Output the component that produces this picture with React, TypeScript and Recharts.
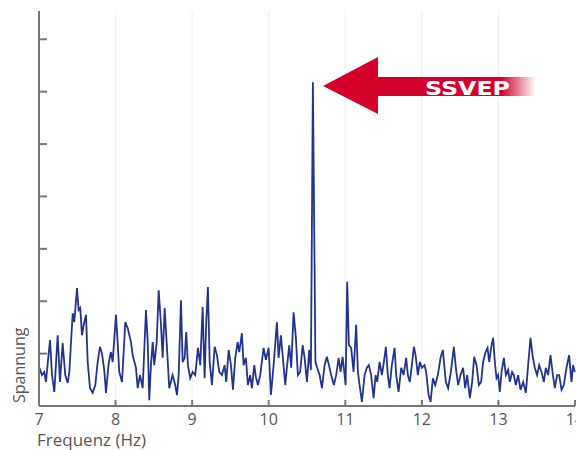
import { LineChart, Line, XAxis, YAxis, CartesianGrid, Customized } from 'recharts';

// Frequenzachse (Hz) und Amplitude (willkürliche Einheiten) des Spektrums
const freq = [
  7.004, 7.039, 7.069, 7.091, 7.114, 7.144, 7.170, 7.200, 7.244, 7.274,
  7.309, 7.343, 7.375, 7.396, 7.440, 7.461, 7.496, 7.518, 7.539, 7.561,
  7.584, 7.614, 7.636, 7.666, 7.701, 7.735, 7.766, 7.796, 7.822, 7.852,
  7.875, 7.910, 7.940, 7.962, 8.005, 8.027, 8.048, 8.084, 8.127, 8.158,
  8.201, 8.223, 8.266, 8.289, 8.319, 8.354, 8.397, 8.420, 8.440, 8.462,
  8.485, 8.505, 8.537, 8.563, 8.593, 8.615, 8.641, 8.667, 8.701, 8.745,
  8.779, 8.802, 8.824, 8.854, 8.876, 8.902, 8.923, 8.945, 8.975, 9.007,
  9.041, 9.076, 9.106, 9.137, 9.163, 9.184, 9.206, 9.229, 9.259, 9.294,
  9.324, 9.354, 9.389, 9.424, 9.445, 9.477, 9.507, 9.533, 9.563, 9.594,
  9.615, 9.650, 9.672, 9.702, 9.728, 9.758, 9.781, 9.811, 9.833, 9.859,
  9.889, 9.933, 9.963, 9.999, 10.029, 10.064, 10.107, 10.129, 10.159, 10.185,
  10.216, 10.238, 10.268, 10.294, 10.325, 10.355, 10.381, 10.411, 10.443, 10.469,
  10.499, 10.529, 10.551, 10.577, 10.610, 10.633, 10.665, 10.695, 10.730, 10.760,
  10.786, 10.816, 10.851, 10.881, 10.913, 10.939, 10.965, 10.991, 11.004, 11.025,
  11.047, 11.077, 11.108, 11.142, 11.165, 11.187, 11.217, 11.252, 11.282, 11.308,
  11.338, 11.370, 11.396, 11.417, 11.448, 11.478, 11.504, 11.530, 11.556, 11.578,
  11.608, 11.644, 11.665, 11.696, 11.730, 11.761, 11.795, 11.817, 11.843, 11.870,
  11.896, 11.918, 11.948, 11.974, 12.000, 12.035, 12.056, 12.088, 12.114, 12.144,
  12.174, 12.209, 12.244, 12.274, 12.313, 12.343, 12.379, 12.418, 12.444, 12.474,
  12.505, 12.539, 12.565, 12.592, 12.627, 12.657, 12.683, 12.714, 12.744, 12.774,
  12.800, 12.832, 12.858, 12.879, 12.910, 12.931, 12.953, 12.975, 12.996, 13.018,
  13.041, 13.071, 13.097, 13.127, 13.149, 13.179, 13.201, 13.227, 13.257, 13.289,
  13.323, 13.358, 13.388, 13.419, 13.445, 13.475, 13.505, 13.532, 13.563, 13.593,
  13.619, 13.649, 13.680, 13.706, 13.736, 13.767, 13.793, 13.824, 13.854, 13.889,
  13.923, 13.954, 13.975, 13.997,
];

const amp = [
  0.73, 0.59, 0.65, 0.46, 0.82, 1.26, 0.59, 0.27, 1.35, 0.46,
  1.20, 0.59, 0.44, 0.65, 1.77, 1.60, 2.25, 1.83, 1.87, 1.35,
  1.55, 1.74, 0.84, 0.34, 0.25, 0.40, 0.84, 1.13, 1.01, 0.69,
  0.25, 0.82, 1.03, 0.84, 1.74, 1.22, 0.65, 0.46, 1.60, 1.49,
  1.22, 0.97, 0.73, 0.34, 0.59, 0.34, 1.83, 1.22, 0.11, 0.78,
  1.22, 0.78, 1.22, 2.21, 1.55, 0.92, 1.87, 1.22, 0.34, 0.59,
  0.40, 0.21, 0.59, 2.02, 0.84, 0.92, 1.41, 0.78, 0.53, 0.65,
  0.59, 1.11, 0.78, 1.89, 0.53, 1.60, 2.27, 0.84, 0.40, 1.13,
  0.97, 0.65, 0.59, 0.78, 0.46, 1.07, 0.78, 0.31, 0.92, 1.22,
  1.03, 1.39, 0.78, 0.92, 0.40, 0.59, 0.34, 0.78, 0.55, 0.40,
  0.59, 1.11, 0.88, 1.11, 0.21, 0.78, 1.60, 0.92, 1.35, 0.92,
  0.40, 0.74, 1.16, 0.73, 1.79, 1.30, 0.59, 0.65, 1.16, 0.92,
  0.46, 1.07, 0.69, 6.18, 0.84, 0.73, 0.59, 0.34, 0.78, 0.94,
  0.78, 0.59, 0.40, 0.59, 0.92, 0.65, 0.94, 0.59, 0.40, 2.37,
  1.16, 1.11, 0.65, 1.55, 0.65, 0.40, 0.08, 0.59, 0.73, 0.78,
  0.59, 0.15, 0.59, 0.46, 0.84, 0.59, 0.84, 1.13, 0.59, 0.34,
  0.78, 1.11, 0.59, 0.27, 0.73, 0.59, 0.92, 0.59, 0.46, 0.78,
  1.13, 0.97, 0.59, 0.84, 0.73, 0.78, 0.65, 0.21, 0.08, 0.53,
  0.40, 0.59, 0.92, 1.07, 0.46, 0.34, 0.65, 1.13, 0.73, 0.40,
  0.59, 0.73, 0.34, 0.59, 0.15, 0.46, 0.94, 0.78, 0.40, 0.46,
  0.84, 1.03, 1.11, 0.84, 1.16, 1.30, 0.84, 0.53, 0.59, 0.27,
  0.65, 0.92, 0.59, 0.69, 0.46, 0.65, 0.59, 0.40, 0.59, 0.31,
  0.46, 0.25, 0.78, 1.30, 0.97, 0.73, 0.59, 0.78, 0.65, 0.46,
  0.73, 0.59, 0.97, 0.65, 0.34, 0.59, 0.59, 0.31, 0.40, 0.73,
  0.97, 0.46, 0.78, 0.65,
];

const freqTicks = [7, 8, 9, 10, 11, 12, 13, 14];
const gridFreqs = [8, 9, 10, 11, 12, 13];
const ampTicks = [0, 1, 2, 3, 4, 5, 6, 7];

const rows = freq.map((f, i) => ({ f, a: amp[i] }));

const AXIS = '#777';
const TEXT = '#555';
const FONT = '"Open Sans", sans-serif';
const TICK_LEN = 8;

// inward pointing tick marks, drawn by hand so they sit inside the frame
const bottomTick = ({ x, y, payload }: any) => (
  <g>
    <line x1={x} y1={y} x2={x} y2={y - TICK_LEN + 2} stroke={AXIS} strokeWidth={2} />
    <text x={x} y={y + 19} textAnchor="middle" fill={TEXT} fontSize={16} fontFamily={FONT}>
      {payload.value}
    </text>
  </g>
);
const topTick = ({ x, y }: any) => (
  <line x1={x} y1={y} x2={x} y2={y + TICK_LEN} stroke={AXIS} strokeWidth={2} />
);
const leftTick = ({ x, y }: any) => (
  <line x1={x} y1={y} x2={x + TICK_LEN} y2={y} stroke={AXIS} strokeWidth={2} />
);
const rightTick = ({ x, y }: any) => (
  <line x1={x} y1={y} x2={x - TICK_LEN} y2={y} stroke={AXIS} strokeWidth={2} />
);

// axis titles
const AxisTitles = () => (
  <g fill={TEXT} fontFamily={FONT}>
    <text x={37} y={446} fontSize={17}>Frequenz  (Hz)</text>
    <text x={25} y={403} fontSize={16} transform="rotate(-90 25 403)">Spannung</text>
  </g>
);

// red arrow with the SSVEP caption pointing at the peak
const SsvepArrow = () => (
  <g>
    <defs>
      <linearGradient id="shaftFade" gradientUnits="userSpaceOnUse" x1={378} y1={0} x2={536} y2={0}>
        <stop offset="0" stopColor="#d4002c" stopOpacity={1} />
        <stop offset="0.78" stopColor="#d4002c" stopOpacity={1} />
        <stop offset="1" stopColor="#d4002c" stopOpacity={0} />
      </linearGradient>
    </defs>
    <rect x={377} y={77} width={159} height={19} fill="url(#shaftFade)" />
    <polygon points="323,86 378,57 378,114" fill="#d4002c" />
    <text
      x={425}
      y={95}
      fill="#fff"
      fontSize={20}
      fontWeight="bold"
      fontFamily='"DejaVu Sans", sans-serif'
      textLength={85}
      lengthAdjust="spacingAndGlyphs"
    >
      SSVEP
    </text>
  </g>
);

export default function App() {
  return (
    <div style={{ position: 'absolute', left: 0, top: 0, width: 576, height: 450, background: '#fff', overflow: 'hidden' }}>
      <LineChart width={576} height={450} data={rows} margin={{ top: 11, right: 1, bottom: 0, left: 0 }}>
        <CartesianGrid
          xAxisId="b"
          yAxisId="l"
          horizontal={false}
          verticalValues={gridFreqs}
          stroke="#ececf2"
          strokeWidth={1}
        />
        <XAxis
          xAxisId="b"
          type="number"
          dataKey="f"
          domain={[7, 14]}
          ticks={freqTicks}
          height={44}
          tickSize={0}
          tickMargin={0}
          tickLine={false}
          axisLine={{ stroke: AXIS, strokeWidth: 2 }}
          tick={bottomTick}
          interval={0}
        />
        <XAxis
          xAxisId="t"
          orientation="top"
          type="number"
          dataKey="f"
          domain={[7, 14]}
          ticks={freqTicks}
          height={0}
          tickSize={0}
          tickMargin={0}
          tickLine={false}
          axisLine={{ stroke: AXIS, strokeWidth: 3 }}
          tick={topTick}
          interval={0}
        />
        <YAxis
          yAxisId="l"
          type="number"
          domain={[0, 7.54]}
          ticks={ampTicks}
          width={39}
          tickSize={0}
          tickMargin={0}
          tickLine={false}
          axisLine={{ stroke: AXIS, strokeWidth: 2 }}
          tick={leftTick}
          interval={0}
        />
        <YAxis
          yAxisId="r"
          orientation="right"
          type="number"
          domain={[0, 7.54]}
          ticks={ampTicks}
          width={0}
          tickSize={0}
          tickMargin={0}
          tickLine={false}
          axisLine={{ stroke: AXIS, strokeWidth: 3 }}
          tick={rightTick}
          interval={0}
        />
        <Line
          xAxisId="b"
          yAxisId="l"
          type="linear"
          dataKey="a"
          stroke="#22348f"
          strokeWidth={1.8}
          dot={false}
          isAnimationActive={false}
        />
        <Customized component={AxisTitles} />
        <Customized component={SsvepArrow} />
      </LineChart>
    </div>
  );
}
